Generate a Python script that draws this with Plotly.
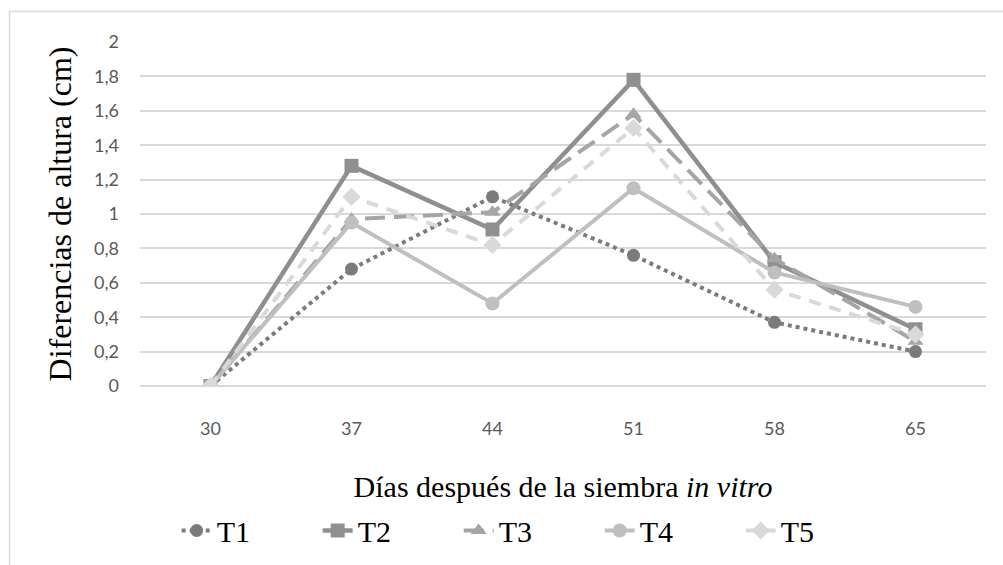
import plotly.graph_objects as go

# Days after in vitro sowing
dias = ["30", "37", "44", "51", "58", "65"]

# Height differences (cm) per treatment
t1 = [0.0, 0.68, 1.10, 0.76, 0.37, 0.20]
t2 = [0.0, 1.28, 0.91, 1.78, 0.72, 0.33]
t3 = [0.0, 0.97, 1.01, 1.58, 0.74, 0.26]
t4 = [0.0, 0.95, 0.48, 1.15, 0.66, 0.46]
t5 = [0.0, 1.10, 0.82, 1.50, 0.56, 0.30]

y_ticks = [0, 0.2, 0.4, 0.6, 0.8, 1, 1.2, 1.4, 1.6, 1.8, 2]
y_tick_text = ["0", "0,2", "0,4", "0,6", "0,8", "1", "1,2", "1,4", "1,6", "1,8", "2"]

series = [
    ("T1", t1, "#7b7b7b", "dot", 4, "circle", 13),
    ("T2", t2, "#8f8f8f", "solid", 4.5, "square", 14),
    ("T3", t3, "#a5a5a5", "20px,9px", 4, "triangle-up", 14),
    ("T4", t4, "#bfbfbf", "solid", 4, "circle", 14),
    ("T5", t5, "#d9d9d9", "12px,9px", 4, "diamond", 14),
]

fig = go.Figure()
for name, vals, color, dash, width, symbol, size in series:
    fig.add_trace(go.Scatter(
        x=dias, y=vals, name=name, mode="lines+markers",
        line=dict(color=color, width=width, dash=dash),
        marker=dict(color=color, symbol=symbol, size=size),
    ))

serif = "Liberation Serif, Times New Roman, serif"
sans = "Lato, Open Sans, sans-serif"

fig.update_layout(
    width=1003, height=565,
    margin=dict(l=140, r=17, t=42, b=179, autoexpand=False),
    paper_bgcolor="white", plot_bgcolor="white",
    showlegend=True,
    legend=dict(
        orientation="h", x=0.46, xanchor="center", y=-0.42, yanchor="middle",
        font=dict(family=serif, size=30, color="#000000"),
        entrywidth=96, entrywidthmode="pixels",
        bgcolor="rgba(0,0,0,0)",
    ),
    xaxis=dict(
        type="category", range=[-0.5, 5.5],
        showgrid=False, showline=False, zeroline=False,
        tickfont=dict(family=sans, size=18, color="#595959"),
        ticks="", ticklabelstandoff=30,
        title=dict(text="Días después de la siembra <i>in vitro</i>",
                   font=dict(family=serif, size=30, color="#000000"),
                   standoff=37),
        fixedrange=True,
    ),
    yaxis=dict(
        range=[0, 2], tickvals=y_ticks, ticktext=y_tick_text,
        showgrid=True, gridcolor="#d9d9d9", gridwidth=1.5,
        zeroline=True, zerolinecolor="#d9d9d9", zerolinewidth=1.5,
        showline=False, ticks="", ticklabelstandoff=20,
        tickfont=dict(family=sans, size=18, color="#595959"),
        title=dict(text="Diferencias de altura (cm)",
                   font=dict(family=serif, size=32, color="#000000"),
                   standoff=12),
        fixedrange=True,
    ),
)

# Chart frame (light gray border around the chart area)
fig.add_shape(
    type="rect", xref="paper", yref="paper",
    x0=-0.1543, x1=1.03, y0=-0.56, y1=1.0883,
    line=dict(color="#d9d9d9", width=1.5), fillcolor="rgba(0,0,0,0)",
    layer="below",
)

fig.write_html("out.html")
